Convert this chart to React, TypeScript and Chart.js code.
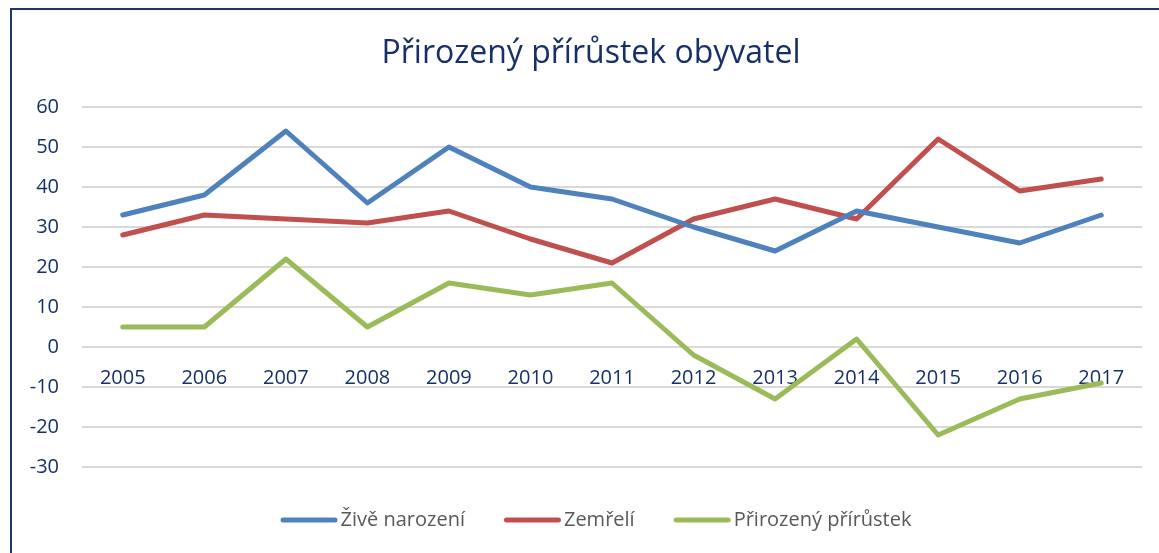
import React, { useEffect, useRef } from 'react';
import { Chart, registerables } from 'chart.js';

Chart.register(...registerables);

const FONT = '"Open Sans", "Noto Sans", sans-serif';

const years = ['2005', '2006', '2007', '2008', '2009', '2010', '2011', '2012', '2013', '2014', '2015', '2016', '2017'];
const liveBirths = [33, 38, 54, 36, 50, 40, 37, 30, 24, 34, 30, 26, 33];
const deaths = [28, 33, 32, 31, 34, 27, 21, 32, 37, 32, 52, 39, 42];
const naturalIncrease = [5, 5, 22, 5, 16, 13, 16, -2, -13, 2, -22, -13, -9];
const seriesNames = ['Živě narození', 'Zemřelí', 'Přirozený přírůstek'];
const seriesColors = ['#4f81bd', '#c0504d', '#9bbb59'];
const yMin = -30;
const yMax = 60;
const yStep = 10;
const titleText = 'Přirozený přírůstek obyvatel';
const NAVY = '#17306a';

const titlePlugin = {
  id: 'excelTitle',
  afterDraw(chart: any) {
    const ctx = chart.ctx as CanvasRenderingContext2D;
    ctx.save();
    ctx.font = `32px ${FONT}`;
    ctx.fillStyle = NAVY;
    ctx.textAlign = 'center';
    ctx.textBaseline = 'alphabetic';
    const ca = chart.chartArea;
    ctx.fillText(titleText, (ca.left + ca.right) / 2 - 21, 63);
    ctx.restore();
  },
};

const legendPlugin = {
  id: 'excelLegend',
  afterDraw(chart: any) {
    const ctx = chart.ctx as CanvasRenderingContext2D;
    ctx.save();
    ctx.font = `20px ${FONT}`;
    const lineLen = 57;
    const gapText = 3;
    const gapItem = 39;
    const items = chart.data.datasets.map((ds: any) => ({
      label: ds.label as string,
      color: ds.borderColor as string,
      w: ctx.measureText(ds.label).width,
    }));
    const total =
      items.reduce((s: number, it: any) => s + lineLen + gapText + it.w, 0) + gapItem * (items.length - 1);
    const ca = chart.chartArea;
    const cx = (ca.left + ca.right) / 2 - 16;
    let x = cx - total / 2;
    const y = 520;
    for (const it of items) {
      ctx.beginPath();
      ctx.strokeStyle = it.color;
      ctx.lineWidth = 5;
      ctx.lineCap = 'round';
      ctx.moveTo(x + 2.5, y);
      ctx.lineTo(x + lineLen - 2.5, y);
      ctx.stroke();
      ctx.fillStyle = '#595959';
      ctx.textBaseline = 'middle';
      ctx.textAlign = 'left';
      ctx.fillText(it.label, x + lineLen + gapText, y);
      x += lineLen + gapText + it.w + gapItem;
    }
    ctx.restore();
  },
};

export default function App() {
  const canvasRef = useRef<HTMLCanvasElement | null>(null);

  useEffect(() => {
    if (!canvasRef.current) return;
    const data = [liveBirths, deaths, naturalIncrease];
    const chart = new Chart(canvasRef.current, {
      type: 'line',
      data: {
        labels: years,
        datasets: data.map((vals, i) => ({
          label: seriesNames[i],
          data: vals,
          borderColor: seriesColors[i],
          backgroundColor: seriesColors[i],
          borderWidth: 5,
          borderCapStyle: 'round' as const,
          borderJoinStyle: 'round' as const,
          pointRadius: 0,
          pointHoverRadius: 0,
          tension: 0,
          fill: false,
        })),
      },
      options: {
        responsive: false,
        animation: false,
        devicePixelRatio: 1,
        layout: { padding: { left: 0, right: 17, top: 107, bottom: 86 } },
        plugins: {
          legend: { display: false },
          tooltip: { enabled: false },
          title: { display: false },
        },
        scales: {
          x: {
            type: 'category',
            position: { y: 0 } as any,
            offset: true,
            grid: { display: false, drawTicks: false },
            border: { display: false },
            ticks: {
              color: NAVY,
              font: { family: FONT, size: 20 },
              padding: 19,
              maxRotation: 0,
              autoSkip: false,
            },
          },
          y: {
            min: yMin,
            max: yMax,
            afterFit: (s: any) => {
              s.width = 82;
            },
            grid: { color: '#d9d9d9', lineWidth: 2, drawTicks: false },
            border: { display: false },
            ticks: {
              stepSize: yStep,
              color: NAVY,
              font: { family: FONT, size: 20 },
              padding: 23,
            },
          },
        },
      },
      plugins: [titlePlugin, legendPlugin],
    });
    return () => chart.destroy();
  }, []);

  return (
    <div style={{ position: 'fixed', left: 0, top: 0, width: 1159, height: 553, background: '#fff' }}>
      <canvas ref={canvasRef} width={1159} height={553} style={{ position: 'absolute', left: 0, top: 0 }} />
      <div
        style={{
          position: 'absolute',
          left: 10,
          top: 8,
          width: 1200,
          height: 600,
          border: '2px solid #1f3864',
          boxSizing: 'border-box',
          pointerEvents: 'none',
        }}
      />
    </div>
  );
}
